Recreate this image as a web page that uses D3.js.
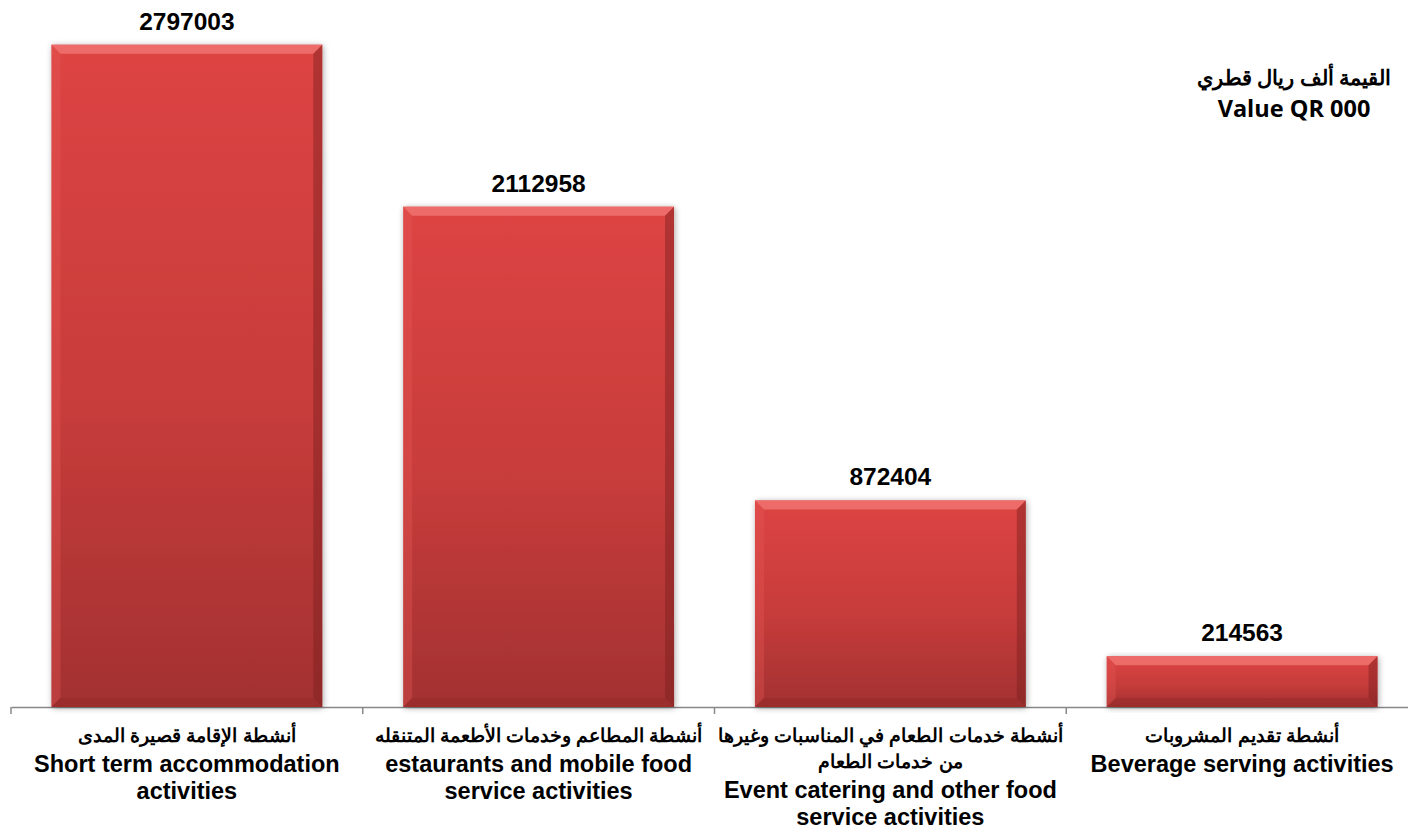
<!DOCTYPE html>
<html>
<head>
<meta charset="utf-8">
<script src="https://cdn.jsdelivr.net/npm/d3@7"></script>
<style>
  body { margin: 0; background: #fff; }
  svg { display: block; }
</style>
</head>
<body>
<svg id="chart" width="1408" height="833"></svg>
<script>
var categoriesAr = [
  ['أنشطة الإقامة قصيرة المدى'],
  ['أنشطة المطاعم وخدمات الأطعمة المتنقله'],
  ['أنشطة خدمات الطعام في المناسبات وغيرها', 'من خدمات الطعام'],
  ['أنشطة تقديم المشروبات']
];
var categoriesEn = [
  ['Short term accommodation', 'activities'],
  ['estaurants and mobile food', 'service activities'],
  ['Event catering and other food', 'service activities'],
  ['Beverage serving activities']
];
var values = [2797003, 2112958, 872404, 214563];
var unitLabel = ['القيمة ألف ريال قطري', 'Value QR 000'];

var svg = d3.select('#chart');
var defs = svg.append('defs');

var grad = defs.append('linearGradient').attr('id', 'barFill')
  .attr('x1', 0).attr('y1', 0).attr('x2', 0).attr('y2', 1);
grad.append('stop').attr('offset', '0%').attr('stop-color', '#dd4443');
grad.append('stop').attr('offset', '55%').attr('stop-color', '#c73c3b');
grad.append('stop').attr('offset', '100%').attr('stop-color', '#a33131');

var shadow = defs.append('filter').attr('id', 'shadow')
  .attr('x', '-10%').attr('y', '-10%').attr('width', '120%').attr('height', '120%');
shadow.append('feGaussianBlur').attr('in', 'SourceAlpha').attr('stdDeviation', 3).attr('result', 'blur');
shadow.append('feOffset').attr('dx', 1).attr('dy', 1).attr('result', 'off');
shadow.append('feComponentTransfer').append('feFuncA').attr('type', 'linear').attr('slope', 0.35);
var merge = shadow.append('feMerge');
merge.append('feMergeNode');
merge.append('feMergeNode').attr('in', 'SourceGraphic');

var x = d3.scaleBand().domain(d3.range(values.length)).range([11, 1418]).paddingInner(0.23).paddingOuter(0.115);
var y = d3.scaleLinear().domain([0, 2800000]).range([707, 44]);

// axis
var axis = svg.append('g').attr('transform', 'translate(0,' + y(0) + ')')
  .call(d3.axisBottom(x).tickSize(0).tickFormat(''));
axis.select('.domain').attr('stroke', '#888').attr('stroke-width', 1.5);
var step = x.step();
var tickXs = d3.range(values.length).map(function(i) { return 11 + i * step; });
svg.append('g').selectAll('line').data(tickXs).join('line')
  .attr('x1', function(d) { return d; }).attr('x2', function(d) { return d; })
  .attr('y1', y(0)).attr('y2', y(0) + 7)
  .attr('stroke', '#888').attr('stroke-width', 1.5);

// bars
var bev = 9;
var bars = svg.append('g').selectAll('g').data(values).join('g');
bars.append('rect')
  .attr('x', function(d, i) { return x(i); })
  .attr('y', function(d) { return y(d); })
  .attr('width', x.bandwidth())
  .attr('height', function(d) { return y(0) - y(d); })
  .attr('fill', 'url(#barFill)')
  .attr('filter', 'url(#shadow)');
// bevel: top light, right dark, left light-ish, bottom dark
bars.append('polygon').attr('fill', '#f07370').attr('opacity', 0.85)
  .attr('points', function(d, i) {
    var x0 = x(i), x1 = x(i) + x.bandwidth(), y0 = y(d);
    return [[x0, y0], [x1, y0], [x1 - bev, y0 + bev], [x0 + bev, y0 + bev]].join(' ');
  });
bars.append('polygon').attr('fill', '#7a1e1e').attr('opacity', 0.45)
  .attr('points', function(d, i) {
    var x1 = x(i) + x.bandwidth(), y0 = y(d), y1 = y(0);
    var b = Math.min(bev, (y1 - y0) / 2);
    return [[x1, y0], [x1, y1], [x1 - b, y1 - b], [x1 - b, y0 + b]].join(' ');
  });
bars.append('polygon').attr('fill', '#e65a57').attr('opacity', 0.35)
  .attr('points', function(d, i) {
    var x0 = x(i), y0 = y(d), y1 = y(0);
    var b = Math.min(bev, (y1 - y0) / 2);
    return [[x0, y0], [x0 + b, y0 + b], [x0 + b, y1 - b], [x0, y1]].join(' ');
  });
bars.append('polygon').attr('fill', '#8c2626').attr('opacity', 0.35)
  .attr('points', function(d, i) {
    var x0 = x(i), x1 = x(i) + x.bandwidth(), y1 = y(0);
    var b = Math.min(bev, (y1 - y(d)) / 2);
    return [[x0, y1], [x0 + b, y1 - b], [x1 - b, y1 - b], [x1, y1]].join(' ');
  });

// value labels
svg.append('g').selectAll('text').data(values).join('text')
  .attr('x', function(d, i) { return x(i) + x.bandwidth() / 2; })
  .attr('y', function(d) { return y(d) - 15; })
  .attr('text-anchor', 'middle')
  .attr('font-family', 'Liberation Sans, Arial, sans-serif')
  .attr('font-weight', 'bold')
  .attr('font-size', 24.5)
  .attr('fill', '#000')
  .text(function(d) { return d; });

// category labels
var labels = svg.append('g').selectAll('text').data(values).join('text')
  .attr('text-anchor', 'middle')
  .attr('font-family', 'Liberation Sans, Arial, sans-serif')
  .attr('font-weight', 'bold')
  .attr('fill', '#000');
labels.each(function(d, i) {
  var el = d3.select(this);
  var cx = x(i) + x.bandwidth() / 2;
  var yy = 742;
  categoriesAr[i].forEach(function(t, j) {
    el.append('tspan').attr('x', cx).attr('y', yy)
      .attr('font-size', 18.5).attr('direction', 'rtl').attr('unicode-bidi', 'embed')
      .text(t);
    yy += 26;
  });
  yy += 4;
  categoriesEn[i].forEach(function(t, j) {
    el.append('tspan').attr('x', cx).attr('y', yy)
      .attr('font-size', 23.5)
      .text(t);
    yy += 27;
  });
});

// unit label
svg.append('g').selectAll('text').data(unitLabel).join('text')
  .attr('x', 1294)
  .attr('y', function(d, i) { return i === 0 ? 85 : 117; })
  .attr('text-anchor', 'middle')
  .attr('font-family', 'Open Sans, Liberation Sans, sans-serif')
  .attr('font-weight', 'bold')
  .attr('font-size', function(d, i) { return i === 0 ? 21 : 23.5; })
  .attr('fill', '#000')
  .text(function(d) { return d; });
</script>
</body>
</html>
